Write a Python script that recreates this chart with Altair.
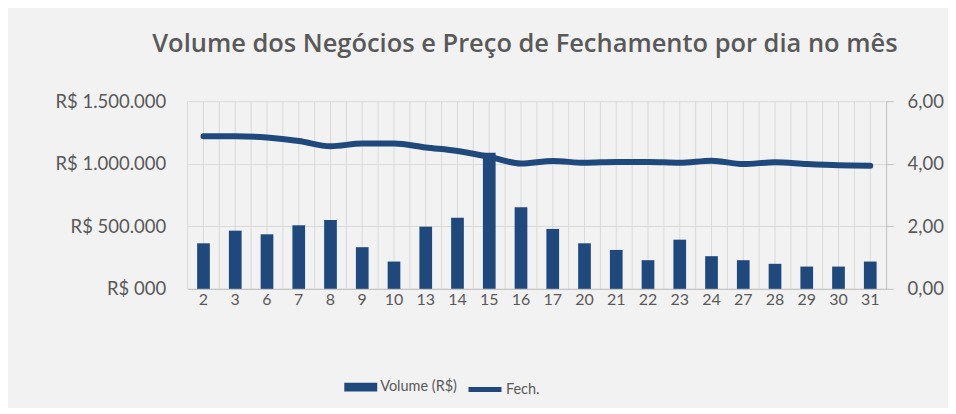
import altair as alt
import pandas as pd

dias = ["2", "3", "6", "7", "8", "9", "10", "13", "14", "15", "16", "17",
        "20", "21", "22", "23", "24", "27", "28", "29", "30", "31"]
volume = [364000, 465000, 436000, 508000, 551000, 333000, 218000, 497000,
          569000, 1088000, 652000, 479000, 364000, 311000, 229000, 393000,
          261000, 229000, 200000, 178000, 178000, 218000]
fech = [4.88, 4.88, 4.84, 4.73, 4.56, 4.65, 4.65, 4.52, 4.41, 4.22, 4.01,
        4.09, 4.03, 4.06, 4.06, 4.03, 4.10, 3.99, 4.05, 3.99, 3.95, 3.94]

vol_ticks = [0, 500000, 1000000, 1500000]
vol_labels = ["R$ 000", "R$ 500.000", "R$ 1.000.000", "R$ 1.500.000"]
preco_ticks = [0, 2, 4, 6]
preco_labels = ["0,00", "2,00", "4,00", "6,00"]

titulo = "Volume dos Negócios e Preço de Fechamento por dia no mês"
serie_vol = "Volume (R$)"
serie_fech = "Fech."

df = pd.DataFrame({"dia": dias, "volume": volume, "fech": fech,
                   "s_vol": serie_vol, "s_fech": serie_fech})


def label_expr(ticks, labels):
    parts = [f"datum.value == {t} ? '{l}'" for t, l in zip(ticks, labels)]
    return " : ".join(parts) + " : ''"


FONT = "Lato"
GRAY = "#595959"
BLUE = "#1f497d"
W, H = 700, 188

x_axis = alt.Axis(title=None, labelAngle=0, ticks=False, domain=True,
                  domainColor="#bfbfbf", domainWidth=1, labelPadding=3,
                  labelFontSize=16, labelColor=GRAY, labelFont=FONT, grid=False)
x_scale = alt.Scale(paddingInner=0, paddingOuter=0)

base = alt.Chart(df)

grid_a = base.mark_rule(color="#d9d9d9", strokeWidth=1).encode(
    x=alt.X("dia:N", sort=dias, scale=x_scale, axis=x_axis, bandPosition=0),
    y=alt.value(0), y2=alt.value(H))
grid_b = base.mark_rule(color="#d9d9d9", strokeWidth=1).encode(
    x=alt.X("dia:N", sort=dias, scale=x_scale, axis=x_axis, bandPosition=0.5),
    y=alt.value(0), y2=alt.value(H))

bars = base.mark_bar(width=alt.RelativeBandSize(0.4)).encode(
    x=alt.X("dia:N", sort=dias, scale=x_scale, axis=x_axis),
    y=alt.Y("volume:Q", scale=alt.Scale(domain=[0, 1500000]),
            axis=alt.Axis(orient="left", values=vol_ticks,
                          labelExpr=label_expr(vol_ticks, vol_labels),
                          title=None, grid=True, gridColor="#d9d9d9",
                          domain=False, ticks=False, labelPadding=22,
                          labelFontSize=18.5, labelColor=GRAY, labelFont=FONT)),
    fill=alt.Fill("s_vol:N", scale=alt.Scale(domain=[serie_vol], range=[BLUE]),
                  legend=alt.Legend(orient="none", legendX=157, legendY=270,
                                    title=None, direction="horizontal",
                                    symbolType="M-1,-0.27H1V0.27H-1Z",
                                    symbolSize=1089, symbolStrokeWidth=0,
                                    labelFontSize=14.5, labelFontWeight="normal",
                                    labelColor=GRAY,
                                    labelFont=FONT, labelOffset=3, padding=0)),
)

line = base.mark_line(strokeWidth=6, interpolate="monotone",
                      strokeCap="round").encode(
    x=alt.X("dia:N", sort=dias, scale=x_scale, axis=x_axis),
    y=alt.Y("fech:Q", scale=alt.Scale(domain=[0, 6]),
            axis=alt.Axis(orient="right", values=preco_ticks,
                          labelExpr=label_expr(preco_ticks, preco_labels),
                          title=None, grid=False, domain=True,
                          domainColor="#bfbfbf", ticks=True,
                          tickColor="#bfbfbf", tickSize=7, labelPadding=14,
                          labelFontSize=18.5, labelColor=GRAY, labelFont=FONT)),
    stroke=alt.Stroke("s_fech:N",
                      scale=alt.Scale(domain=[serie_fech], range=[BLUE]),
                      legend=alt.Legend(orient="none", legendX=279, legendY=270,
                                        title=None, direction="horizontal",
                                        symbolType="stroke", symbolSize=1089,
                                        symbolStrokeWidth=5,
                                        labelFontSize=14.5,
                                        labelFontWeight="normal",
                                        labelColor=GRAY,
                                        labelFont=FONT, labelOffset=2,
                                        padding=0)),
)

chart = alt.layer(grid_a, grid_b, bars, line).resolve_scale(
    y="independent", fill="independent", stroke="independent"
).properties(
    width=W, height=H,
    title=alt.TitleParams(titulo, fontSize=25.5, font="Open Sans",
                          fontWeight=600, color=GRAY, anchor="middle",
                          dx=-12, offset=35),
    background="#f2f2f2",
    padding={"left": 180, "top": 93, "right": 62, "bottom": 119},
    autosize=alt.AutoSizeParams(type="none"),
).configure_view(stroke=None, fill="#f2f2f2")

chart.save("out.html", embed_options={"renderer": "svg", "actions": False})
